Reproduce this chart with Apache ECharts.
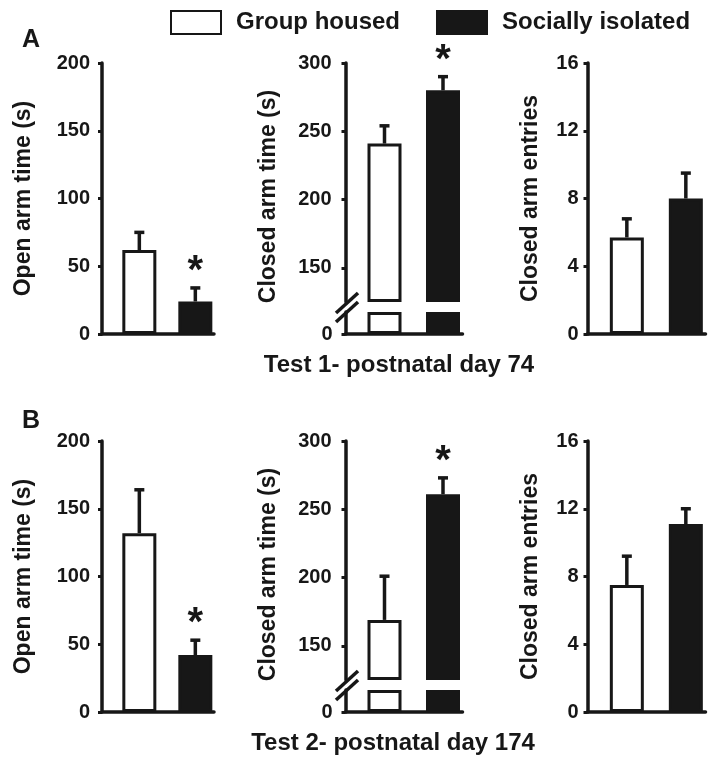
<!DOCTYPE html>
<html>
<head>
<meta charset="utf-8">
<title>Elevated plus maze - group housed vs socially isolated</title>
<script src="https://cdn.jsdelivr.net/npm/echarts@6/dist/echarts.min.js"></script>
<style>
  html, body { margin: 0; padding: 0; background: #fff; }
  #chart { width: 718px; height: 769px; }
</style>
</head>
<body>
<div id="chart"></div>
<script>
// groups (legend + bar order)
const groups = ['Group housed', 'Socially isolated'];

// A: Test 1 - postnatal day 74 (mean, sem)
const openArmA = [62, 24];
const openArmA_sem = [13, 10];
const closedArmA = [241, 280];
const closedArmA_sem = [13, 10];
const entriesA = [5.7, 8.0];
const entriesA_sem = [1.1, 1.5];

// B: Test 2 - postnatal day 174
const openArmB = [132, 42];
const openArmB_sem = [32, 11];
const closedArmB = [169, 261];
const closedArmB_sem = [32, 12];
const entriesB = [7.5, 11.1];
const entriesB_sem = [1.7, 0.9];

// significance star per bar (1 = *)
const sigOpen = [0, 1];
const sigClosed = [0, 1];
const sigEntries = [0, 0];

// tick labels
const openTicks = [0, 50, 100, 150, 200];
const closedTicks = [0, 150, 200, 250, 300];
const entriesTicks = [0, 4, 8, 12, 16];

const rowLabels = ['Test 1- postnatal day 74', 'Test 2- postnatal day 174'];
const panelLetters = ['A', 'B'];

// closed arm axis is broken between these two values
const BREAK_LO = 16;
const BREAK_HI = 125;

// ---- layout / style ----
const INK = '#171717';
const FONT = '"Liberation Sans", Arial, Helvetica, sans-serif';
const ROW_TOP = [63, 441];
const ROW_H = 271;
const COL_LEFT = [102, 345.5, 587.5];
const COL_W = [112, 117, 118];
const BAR_X = [1, 2.5];      // bar centres on a 0..3 x axis
const UPPER_H = 239;         // broken axis: upper part height
const LOWER_TOP = 249;       // broken axis: lower part offset from row top
const LOWER_H = 22;

const grid = [], xAxis = [], yAxis = [], series = [], graphic = [];

function addGrid(left, top, width, height, showBase) {
  const i = grid.length;
  grid.push({ left: left, top: top, width: width, height: height, outerBoundsMode: 'none' });
  xAxis.push({
    gridIndex: i, type: 'value', min: 0, max: 3, show: showBase,
    axisLine: { show: true, onZero: false, lineStyle: { color: INK, width: 3.5 } },
    axisTick: { show: false }, axisLabel: { show: false }, splitLine: { show: false }
  });
  return i;
}

function addYAxis(gi, opt) {
  yAxis.push(Object.assign({
    gridIndex: gi, type: 'value',
    axisLine: { show: true, lineStyle: { color: INK, width: 3.5 } },
    axisTick: { show: true, length: 4, lineStyle: { color: INK, width: 3 } },
    axisLabel: { color: INK, fontFamily: FONT, fontWeight: 'bold', fontSize: 20, margin: 12 },
    splitLine: { show: false },
    nameLocation: 'middle',
    nameTextStyle: { color: INK, fontFamily: FONT, fontWeight: 'bold', fontSize: 23 }
  }, opt));
}

function addBars(gi, values) {
  groups.forEach(function (name, k) {
    series.push({
      name: name, type: 'bar', xAxisIndex: gi, yAxisIndex: gi,
      barWidth: 34, barGap: '-100%', clip: false,
      itemStyle: { color: k ? INK : '#fff', borderColor: INK, borderWidth: 3 },
      data: [[BAR_X[k], values[k]]]
    });
  });
}

function renderError(params, api) {
  const x = api.value(0), m = api.value(1), e = api.value(2), sig = api.value(3);
  const p0 = api.coord([x, m]);
  const p1 = api.coord([x, m + e]);
  const st = { stroke: INK, lineWidth: 3.5 };
  const children = [
    { type: 'line', shape: { x1: p0[0], y1: p0[1], x2: p1[0], y2: p1[1] }, style: st },
    { type: 'line', shape: { x1: p1[0] - 5, y1: p1[1], x2: p1[0] + 5, y2: p1[1] }, style: st }
  ];
  if (sig) {
    children.push({
      type: 'text', x: p1[0], y: p1[1] - 16,
      style: { text: '*', fill: INK, font: 'bold 40px ' + FONT, textAlign: 'center', textVerticalAlign: 'middle' }
    });
  }
  return { type: 'group', children: children };
}

function addErrors(gi, values, sems, sig) {
  series.push({
    type: 'custom', xAxisIndex: gi, yAxisIndex: gi, z: 5, silent: true,
    renderItem: renderError,
    data: values.map(function (v, k) { return [BAR_X[k], v, sems[k], sig[k]]; })
  });
}

const rows = [
  { open: openArmA, openSem: openArmA_sem, closed: closedArmA, closedSem: closedArmA_sem, ent: entriesA, entSem: entriesA_sem },
  { open: openArmB, openSem: openArmB_sem, closed: closedArmB, closedSem: closedArmB_sem, ent: entriesB, entSem: entriesB_sem }
];

rows.forEach(function (r, ri) {
  const top = ROW_TOP[ri];

  // open arm time
  let g = addGrid(COL_LEFT[0], top, COL_W[0], ROW_H, true);
  addYAxis(g, {
    min: openTicks[0], max: openTicks[openTicks.length - 1], interval: openTicks[1] - openTicks[0],
    name: 'Open arm time (s)', nameGap: 67
  });
  addBars(g, r.open);
  addErrors(g, r.open, r.openSem, sigOpen);

  // closed arm time, broken axis: upper part (bars start at the break)
  const up = addGrid(COL_LEFT[1], top, COL_W[1], UPPER_H, false);
  const upTicks = closedTicks.filter(function (t) { return t >= BREAK_HI; });
  addYAxis(up, {
    min: BREAK_HI, max: closedTicks[closedTicks.length - 1], startValue: BREAK_HI,
    axisTick: { show: true, length: 4, lineStyle: { color: INK, width: 3 }, customValues: upTicks },
    axisLabel: { color: INK, fontFamily: FONT, fontWeight: 'bold', fontSize: 20, margin: 14, customValues: upTicks },
    name: 'Closed arm time (s)', nameGap: 65,
    nameTextStyle: { color: INK, fontFamily: FONT, fontWeight: 'bold', fontSize: 23, padding: [0, 28, 0, 0] }
  });
  addBars(up, r.closed);
  addErrors(up, r.closed, r.closedSem, sigClosed);

  // lower part
  const lo = addGrid(COL_LEFT[1], top + LOWER_TOP, COL_W[1], LOWER_H, true);
  const loTicks = closedTicks.filter(function (t) { return t <= BREAK_LO; });
  addYAxis(lo, {
    min: 0, max: BREAK_LO,
    axisTick: { show: true, length: 4, lineStyle: { color: INK, width: 3 }, customValues: loTicks },
    axisLabel: { color: INK, fontFamily: FONT, fontWeight: 'bold', fontSize: 20, margin: 13, customValues: loTicks }
  });
  addBars(lo, r.closed.map(function (v) { return Math.min(v, BREAK_LO); }));

  // break marks on the axis
  const bx = COL_LEFT[1] + 1.5;
  [top + UPPER_H + 1, top + LOWER_TOP].forEach(function (cy) {
    graphic.push({
      type: 'line', z: 10,
      shape: { x1: bx - 11, y1: cy + 10, x2: bx + 11, y2: cy - 10 },
      style: { stroke: INK, lineWidth: 3.5 }
    });
  });

  // closed arm entries
  g = addGrid(COL_LEFT[2], top, COL_W[2], ROW_H, true);
  addYAxis(g, {
    min: entriesTicks[0], max: entriesTicks[entriesTicks.length - 1], interval: entriesTicks[1] - entriesTicks[0],
    name: 'Closed arm entries', nameGap: 45, axisLabel: { color: INK, fontFamily: FONT, fontWeight: 'bold', fontSize: 20, margin: 9 }
  });
  addBars(g, r.ent);
  addErrors(g, r.ent, r.entSem, sigEntries);
});

// row captions and panel letters
[[399, 365], [393, 743.5]].forEach(function (p, i) {
  graphic.push({
    type: 'text', x: p[0], y: p[1],
    style: { text: rowLabels[i], fill: INK, font: 'bold 24px ' + FONT, textAlign: 'center', textVerticalAlign: 'middle' }
  });
});
[[31, 40.5], [31, 421]].forEach(function (p, i) {
  graphic.push({
    type: 'text', x: p[0], y: p[1],
    style: { text: panelLetters[i], fill: INK, font: 'bold 25px ' + FONT, textAlign: 'center', textVerticalAlign: 'middle' }
  });
});

const chart = echarts.init(document.getElementById('chart'));
chart.setOption({
  backgroundColor: '#fff',
  animation: false,
  legend: {
    data: groups, left: 170, top: 10, padding: 0, icon: 'rect', itemWidth: 50, itemHeight: 23, itemGap: 36,
    selectedMode: false,
    textStyle: { color: INK, fontFamily: FONT, fontWeight: 'bold', fontSize: 24, padding: [0, 0, 0, 10] }
  },
  grid: grid,
  xAxis: xAxis,
  yAxis: yAxis,
  series: series,
  graphic: graphic
});
</script>
</body>
</html>
